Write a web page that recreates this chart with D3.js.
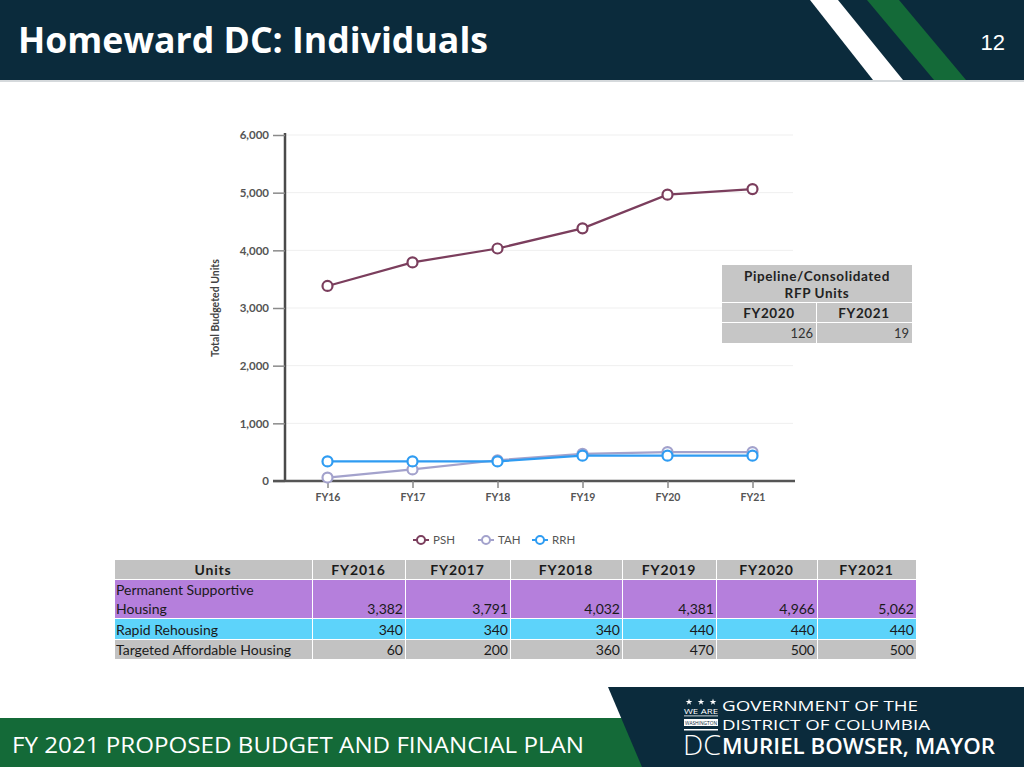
<!DOCTYPE html>
<html lang="en">
<head>
<meta charset="UTF-8">
<title>Homeward DC: Individuals</title>
<script src="https://d3js.org/d3.v7.min.js"></script>
<style>
  body { margin: 0; background: #fff; }
  svg { display: block; }
  .chart text { font-family: Lato, 'Open Sans', sans-serif; }
</style>
</head>
<body>
<svg id="slide" width="1024" height="767"></svg>
<script>
// ---- data ----
const categories = ["FY16", "FY17", "FY18", "FY19", "FY20", "FY21"];
const psh = [3382, 3791, 4032, 4381, 4966, 5062];
const tah = [60, 200, 360, 470, 500, 500];
const rrh = [340, 340, 340, 440, 440, 440];
const yTicks = [0, 1000, 2000, 3000, 4000, 5000, 6000];

const tableYears = ["FY2016", "FY2017", "FY2018", "FY2019", "FY2020", "FY2021"];
const tableRows = [
  { label: ["Permanent Supportive", "Housing"], values: psh, fill: "#b57fdc" },
  { label: ["Rapid Rehousing"], values: rrh, fill: "#5dd3fa" },
  { label: ["Targeted Affordable Housing"], values: tah, fill: "#c2c2c2" }
];

const pipelineYears = ["FY2020", "FY2021"];
const pipelineUnits = [126, 19];

const series = [
  { name: "PSH", values: psh, color: "#7b3e5d" },
  { name: "TAH", values: tah, color: "#a3a2cc" },
  { name: "RRH", values: rrh, color: "#2f9cf2" }
];

const svg = d3.select("#slide");
const fmt = d3.format(",");

// ---- slide header ----
svg.append("rect").attr("x", 0).attr("y", 0).attr("width", 1024).attr("height", 80).attr("fill", "#0b2b3c");
svg.append("rect").attr("x", 0).attr("y", 80).attr("width", 1024).attr("height", 2).attr("fill", "#d5d9dc");
svg.append("polygon").attr("points", "810,0 838,0 903,80 873,80").attr("fill", "#ffffff");
svg.append("polygon").attr("points", "867,0 899,0 966,80 934,80").attr("fill", "#146a38");
svg.append("text").attr("x", 18).attr("y", 53)
  .attr("textLength", 470).attr("lengthAdjust", "spacingAndGlyphs")
  .style("font-family", "'Open Sans', sans-serif").style("font-weight", 700).style("font-size", "35px")
  .attr("fill", "#fff").text("Homeward DC: Individuals");
svg.append("text").attr("x", 1005).attr("y", 50).attr("text-anchor", "end")
  .style("font-family", "'Liberation Sans', Arial, sans-serif").style("font-size", "22px")
  .attr("fill", "#fff").text("12");

// ---- slide footer ----
svg.append("rect").attr("x", 0).attr("y", 718).attr("width", 660).attr("height", 49).attr("fill", "#146a38");
svg.append("polygon").attr("points", "608,687 1024,687 1024,767 642,767").attr("fill", "#0b2b3c");
svg.append("text").attr("x", 12).attr("y", 753)
  .attr("textLength", 572).attr("lengthAdjust", "spacingAndGlyphs")
  .style("font-family", "'Open Sans', sans-serif").style("font-size", "21px")
  .attr("fill", "#fff").text("FY 2021 PROPOSED BUDGET AND FINANCIAL PLAN");

const logo = svg.append("g").attr("fill", "#fff").style("font-family", "'Open Sans', sans-serif");
[689, 701, 713].forEach(sx => {
  logo.append("path").attr("d", d3.symbol(d3.symbolStar, 14)()).attr("transform", `translate(${sx},702)`);
});
logo.append("text").attr("x", 684).attr("y", 714).style("font-size", "7.5px").text("WE ARE")
  .attr("textLength", 34).attr("lengthAdjust", "spacingAndGlyphs");
logo.append("rect").attr("x", 684).attr("y", 715.5).attr("width", 34).attr("height", 0.8);
logo.append("rect").attr("x", 684).attr("y", 719).attr("width", 34).attr("height", 7);
logo.append("text").attr("x", 685).attr("y", 724.5).style("font-size", "4.5px").attr("fill", "#0b2b3c")
  .text("WASHINGTON").attr("textLength", 32).attr("lengthAdjust", "spacingAndGlyphs");
logo.append("rect").attr("x", 684).attr("y", 729).attr("width", 34).attr("height", 1.5);
logo.append("text").attr("x", 683).attr("y", 755).style("font-size", "28px").style("font-weight", 300)
  .text("DC").attr("textLength", 38).attr("lengthAdjust", "spacingAndGlyphs");
logo.append("text").attr("x", 722).attr("y", 711).style("font-size", "15px")
  .text("GOVERNMENT OF THE").attr("textLength", 196).attr("lengthAdjust", "spacingAndGlyphs");
logo.append("text").attr("x", 722).attr("y", 730).style("font-size", "15px")
  .text("DISTRICT OF COLUMBIA").attr("textLength", 208).attr("lengthAdjust", "spacingAndGlyphs");
logo.append("text").attr("x", 722).attr("y", 754).style("font-size", "21px").style("font-weight", 600)
  .text("MURIEL BOWSER, MAYOR").attr("textLength", 273).attr("lengthAdjust", "spacingAndGlyphs");

// ---- line chart ----
const chart = svg.append("g").attr("class", "chart");
const plotLeft = 285, plotRight = 795, plotTop = 135, plotBottom = 481;

const x = d3.scalePoint().domain(categories).range([plotLeft, plotRight]).padding(0.5);
const y = d3.scaleLinear().domain([0, 6000]).range([plotBottom, plotTop]);

// gridlines
chart.append("g").selectAll("line").data(yTicks.slice(1)).join("line")
  .attr("x1", plotLeft).attr("x2", plotRight - 2)
  .attr("y1", d => y(d)).attr("y2", d => y(d))
  .attr("stroke", "#efefef").attr("stroke-width", 1);

// y axis
const yAxis = chart.append("g").attr("transform", `translate(${plotLeft},0)`)
  .call(d3.axisLeft(y).tickValues(yTicks).tickFormat(fmt).tickSize(12).tickPadding(4));
yAxis.select(".domain").attr("stroke", "#4a4a4a").attr("stroke-width", 2.5).attr("d", `M0,${plotTop - 2}V${plotBottom}`);
yAxis.selectAll(".tick line").attr("stroke", "#8a8a8a").attr("stroke-width", 1.5);
yAxis.selectAll(".tick text").attr("fill", "#555").style("font-size", "11.5px").style("font-weight", 700);

// x axis
const xAxis = chart.append("g").attr("transform", `translate(0,${plotBottom})`)
  .call(d3.axisBottom(x).tickSize(7).tickPadding(6));
xAxis.select(".domain").attr("stroke", "#555").attr("stroke-width", 2.5).attr("d", `M${plotLeft - 12},0H${plotRight}`);
xAxis.selectAll(".tick line").attr("stroke", "#8a8a8a").attr("stroke-width", 1.5);
xAxis.selectAll(".tick text").attr("fill", "#555").style("font-size", "10.5px").style("font-weight", 700);

// y title
chart.append("text")
  .attr("transform", `translate(219,${(plotTop + plotBottom) / 2}) rotate(-90)`)
  .attr("text-anchor", "middle").attr("fill", "#444")
  .style("font-size", "10.5px").style("font-weight", 700)
  .text("Total Budgeted Units");

// series lines
const line = d3.line().x((d, i) => x(categories[i])).y(d => y(d));
series.forEach(s => {
  const g = chart.append("g");
  g.append("path").datum(s.values).attr("d", line)
    .attr("fill", "none").attr("stroke", s.color).attr("stroke-width", 2.2);
  g.selectAll("circle").data(s.values).join("circle")
    .attr("cx", (d, i) => x(categories[i])).attr("cy", d => y(d)).attr("r", 5)
    .attr("fill", "#fff").attr("stroke", s.color).attr("stroke-width", 2.2);
});

// legend
const legendX = [413, 478, 532];
const legend = chart.append("g").attr("transform", "translate(0,540)");
series.forEach((s, i) => {
  const lg = legend.append("g").attr("transform", `translate(${legendX[i]},0)`);
  lg.append("line").attr("x1", 0).attr("x2", 16).attr("stroke", s.color).attr("stroke-width", 2);
  lg.append("circle").attr("cx", 8).attr("r", 4).attr("fill", "#fff").attr("stroke", s.color).attr("stroke-width", 2);
  lg.append("text").attr("x", 20).attr("y", 4).attr("fill", "#555").style("font-size", "11.5px").text(s.name);
});

// pipeline table (inset)
const pipe = chart.append("g").style("font-family", "Lato, sans-serif");
const pX = [722, 816, 912], pY = [265, 303, 323, 344];
pipe.append("rect").attr("x", pX[0]).attr("y", pY[0]).attr("width", pX[2] - pX[0]).attr("height", pY[1] - pY[0] - 1).attr("fill", "#c6c6c6");
[1, 2].forEach(r => {
  pipelineYears.forEach((yr, c) => {
    pipe.append("rect").attr("x", pX[c] + (c ? 1 : 0)).attr("y", pY[r]).attr("width", pX[c + 1] - pX[c] - (c ? 1 : 0))
      .attr("height", pY[r + 1] - pY[r] - 1).attr("fill", "#c6c6c6");
  });
});
pipe.append("text").attr("x", (pX[0] + pX[2]) / 2).attr("y", 281).attr("text-anchor", "middle")
  .attr("fill", "#222").style("font-size", "13.5px").style("font-weight", 700).style("letter-spacing", "0.6px")
  .text("Pipeline/Consolidated");
pipe.append("text").attr("x", (pX[0] + pX[2]) / 2).attr("y", 298).attr("text-anchor", "middle")
  .attr("fill", "#222").style("font-size", "13.5px").style("font-weight", 700).style("letter-spacing", "0.6px")
  .text("RFP Units");
pipelineYears.forEach((yr, c) => {
  pipe.append("text").attr("x", (pX[c] + pX[c + 1]) / 2).attr("y", 318).attr("text-anchor", "middle")
    .attr("fill", "#222").style("font-size", "13.5px").style("font-weight", 700).style("letter-spacing", "0.6px").text(yr);
  pipe.append("text").attr("x", pX[c + 1] - 3).attr("y", 338).attr("text-anchor", "end")
    .attr("fill", "#333").style("font-size", "13px").text(pipelineUnits[c]);
});

// ---- data table ----
const tbl = svg.append("g").style("font-family", "Lato, sans-serif").style("font-size", "14px");
const colX = [114, 312, 405, 510, 622, 716, 817, 916];
const rowY = [560, 580, 619, 640, 660];

// header
["Units"].concat(tableYears).forEach((h, c) => {
  tbl.append("rect").attr("x", colX[c] + 1).attr("y", rowY[0]).attr("width", colX[c + 1] - colX[c] - 1)
    .attr("height", rowY[1] - rowY[0] - 1).attr("fill", "#c2c2c2");
  tbl.append("text").attr("x", (colX[c] + colX[c + 1]) / 2).attr("y", rowY[0] + 15)
    .attr("text-anchor", "middle").attr("fill", "#1a1a1a").style("font-weight", 700)
    .style("letter-spacing", "0.8px").text(h);
});

tableRows.forEach((row, r) => {
  const y0 = rowY[r + 1], y1 = rowY[r + 2];
  for (let c = 0; c < 7; c++) {
    tbl.append("rect").attr("x", colX[c] + 1).attr("y", y0).attr("width", colX[c + 1] - colX[c] - 1)
      .attr("height", y1 - y0 - 1).attr("fill", row.fill);
  }
  row.label.forEach((t, k) => {
    tbl.append("text").attr("x", colX[0] + 2).attr("y", y1 - 5 - (row.label.length - 1 - k) * 19)
      .attr("fill", "#1a1a1a").text(t);
  });
  row.values.forEach((v, c) => {
    tbl.append("text").attr("x", colX[c + 2] - 2).attr("y", y1 - 5).attr("text-anchor", "end")
      .attr("fill", "#1a1a1a").text(fmt(v));
  });
});
</script>
</body>
</html>
